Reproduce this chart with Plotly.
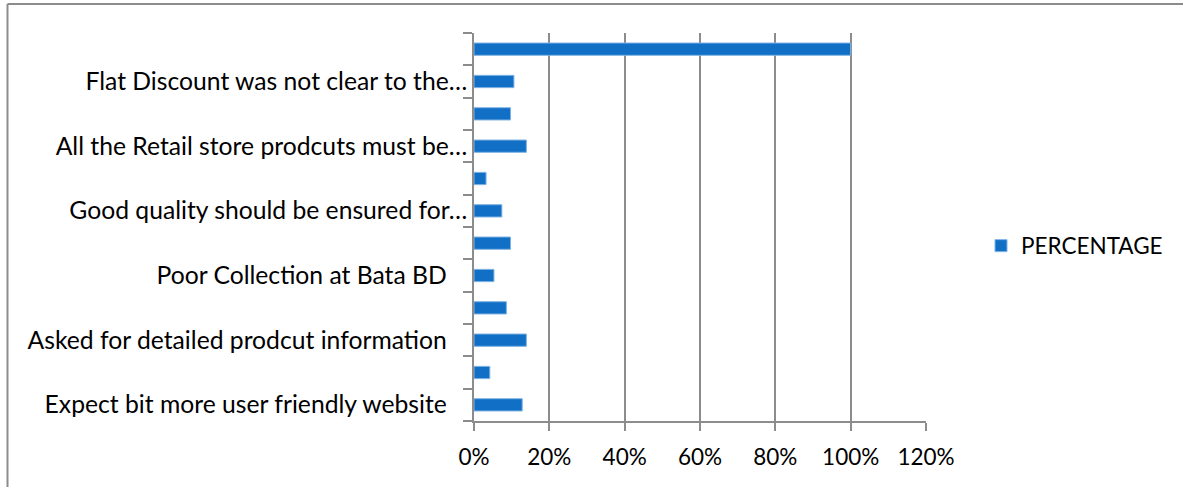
import plotly.graph_objects as go

# categories bottom -> top
categories = [
    "Expect bit more user friendly website",
    "cat2",
    "Asked for detailed prodcut information",
    "cat4",
    "Poor Collection at Bata BD",
    "cat6",
    "Good quality should be ensured for…",
    "cat8",
    "All the Retail store prodcuts must be…",
    "cat10",
    "Flat Discount was not clear to the…",
    "cat12",
]
PAD = "\u00a0\u00a0\u00a0\u200a"
tick_labels = [
    "Expect bit more user friendly website" + PAD,
    "",
    "Asked for detailed prodcut information" + PAD,
    "",
    "Poor Collection at Bata BD" + PAD,
    "",
    "Good quality should be ensured for…",
    "",
    "All the Retail store prodcuts must be…",
    "",
    "Flat Discount was not clear to the…",
    "",
]
percentage = [12.8, 4.2, 13.9, 8.6, 5.3, 9.7, 7.4, 3.2, 13.9, 9.7, 10.6, 100]
x_ticks = [0, 20, 40, 60, 80, 100, 120]
x_tick_labels = ["0%", "20%", "40%", "60%", "80%", "100%", "120%"]

FONT = "Lato"
GRID = "#8c8c8c"
L, R, T, B = 474, 926, 33, 421
W, H = 1183, 487

fig = go.Figure()
fig.add_trace(go.Bar(
    x=percentage, y=categories, orientation="h", name="PERCENTAGE",
    marker=dict(color="#1170C6", line=dict(color="#7fb2e3", width=1)),
    width=0.38,
))

def px2paper_x(px):
    return (px - L) / (R - L)

def px2paper_y(py):
    return (B - py) / (B - T)

fig.update_layout(
    width=W, height=H,
    margin=dict(l=L, r=W - R, t=T, b=H - B, autoexpand=False),
    paper_bgcolor="white", plot_bgcolor="white",
    font=dict(family=FONT, size=22, color="black"),
    showlegend=True,
    legend=dict(x=px2paper_x(981), y=px2paper_y(246), xanchor="left", yanchor="middle",
                font=dict(family=FONT, size=22.5, color="black"), bgcolor="rgba(0,0,0,0)"),
    xaxis=dict(range=[0, 120], tickvals=x_ticks, ticktext=x_tick_labels,
               showgrid=True, gridcolor=GRID, gridwidth=1.5,
               showline=True, linecolor=GRID, linewidth=1.5,
               ticks="outside", ticklen=8, tickcolor=GRID, tickwidth=1.5,
               ticklabelstandoff=7,
               zeroline=False, fixedrange=True,
               tickfont=dict(family=FONT, size=22.5, color="black")),
    yaxis=dict(type="category", categoryorder="array", categoryarray=categories,
               tickvals=categories, ticktext=tick_labels,
               tickson="boundaries", ticks="outside", ticklen=9, tickcolor=GRID, tickwidth=1.5,
               showline=True, linecolor=GRID, linewidth=1.5, showgrid=False,
               ticklabelstandoff=0, fixedrange=True,
               tickfont=dict(family=FONT, size=24.7, color="black")),
    shapes=[
        dict(type="line", xref="paper", yref="paper",
             x0=px2paper_x(7.5), x1=px2paper_x(1183), y0=px2paper_y(4), y1=px2paper_y(4),
             line=dict(color="#8c8c8c", width=2)),
        dict(type="line", xref="paper", yref="paper",
             x0=px2paper_x(7.5), x1=px2paper_x(7.5), y0=px2paper_y(4), y1=px2paper_y(487),
             line=dict(color="#8c8c8c", width=2)),
    ],
)

fig.write_html("out.html", config={"displayModeBar": False},
               post_script="document.body.style.margin='0';document.body.style.overflow='hidden';")
